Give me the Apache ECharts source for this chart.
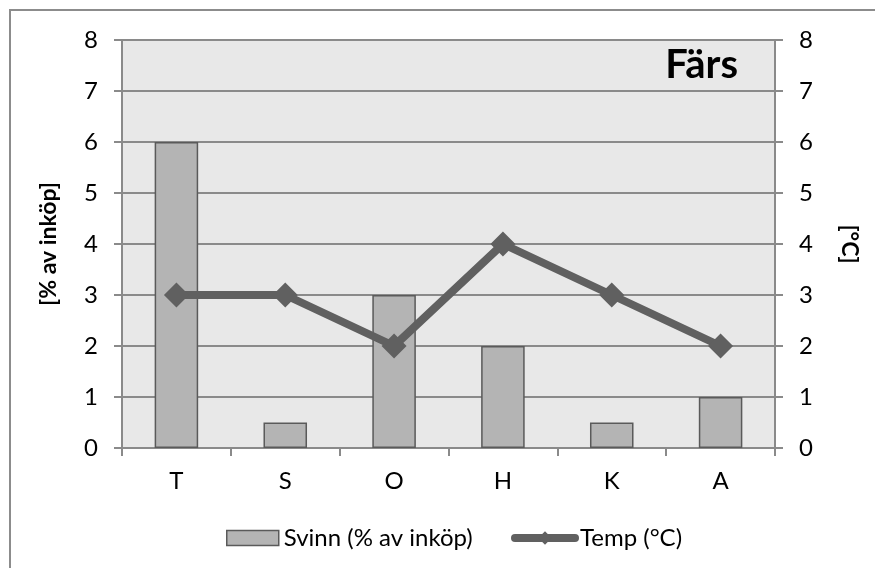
<!DOCTYPE html>
<html>
<head>
<meta charset="utf-8">
<script src="https://cdn.jsdelivr.net/npm/echarts@6/dist/echarts.min.js"></script>
<style>
  html, body { margin: 0; padding: 0; background: #ffffff; }
  #chart { width: 875px; height: 568px; }
</style>
</head>
<body>
<div id="chart"></div>
<script>
// Stores and measured values
const categories = ['T', 'S', 'O', 'H', 'K', 'A'];
const svinnValues = [6, 0.5, 3, 2, 0.5, 1];   // waste, % of purchases
const tempValues = [3, 3, 2, 4, 3, 2];        // storage temperature, °C
const yTicks = { min: 0, max: 8, interval: 1 };

const FONT = 'Lato, "Open Sans", sans-serif';
const GRID_GRAY = '#8a8a8a';
const LINE_GRAY = '#606060';

const chart = echarts.init(document.getElementById('chart'), null, { renderer: 'canvas' });

const yAxisBase = {
  type: 'value',
  min: yTicks.min,
  max: yTicks.max,
  interval: yTicks.interval,
  nameLocation: 'middle',
  nameTextStyle: { fontFamily: FONT, fontSize: 23, fontWeight: 'bold', color: '#000' },
  axisLine: { show: true, lineStyle: { color: GRID_GRAY, width: 2 } },
  axisTick: { show: true, length: 8, lineStyle: { color: GRID_GRAY, width: 2 } },
  axisLabel: { fontFamily: FONT, fontSize: 24, color: '#000', margin: 24 }
};

chart.setOption({
  animation: false,
  backgroundColor: '#ffffff',
  graphic: [
    {
      type: 'rect',
      shape: { x: 10, y: 10, width: 900, height: 600 },
      style: { fill: 'none', stroke: '#8c8c8c', lineWidth: 2 },
      z: -10
    },
    {
      type: 'text',
      right: 137,
      top: 45,
      style: {
        text: 'Färs',
        font: 'bold 40px ' + FONT,
        fill: '#000'
      },
      z: 10
    }
  ],
  grid: {
    left: 122, right: 100, top: 40, bottom: 120,
    show: true, backgroundColor: '#e8e8e8', borderWidth: 0
  },
  legend: [
    {
      data: [{ name: 'Svinn (% av inköp)', icon: 'rect' }],
      left: 226, top: 526,
      itemWidth: 52, itemHeight: 15, itemGap: 5,
      itemStyle: { borderColor: '#5a5a5a', borderWidth: 1.5 },
      textStyle: { fontFamily: FONT, fontSize: 24, color: '#000' },
      padding: 0
    },
    {
      data: ['Temp (°C)'],
      left: 511, top: 526,
      itemWidth: 60, itemHeight: 17, itemGap: 3,
      lineStyle: { width: 8, color: LINE_GRAY, cap: 'round' },
      textStyle: { fontFamily: FONT, fontSize: 24, color: '#000' },
      padding: 0
    }
  ],
  xAxis: {
    type: 'category',
    data: categories,
    boundaryGap: true,
    axisLine: { show: true, lineStyle: { color: GRID_GRAY, width: 2 } },
    axisTick: { show: true, length: 8, alignWithLabel: false, lineStyle: { color: GRID_GRAY, width: 2 } },
    axisLabel: { fontFamily: FONT, fontSize: 24, color: '#000', margin: 21 },
    splitLine: { show: false }
  },
  yAxis: [
    Object.assign({}, yAxisBase, {
      position: 'left',
      name: '[% av inköp]',
      nameGap: 62,
      nameRotate: 90,
      splitLine: { show: true, lineStyle: { color: GRID_GRAY, width: 2 } }
    }),
    Object.assign({}, yAxisBase, {
      position: 'right',
      name: '[°C]',
      nameGap: 63,
      nameRotate: -90,
      splitLine: { show: false }
    })
  ],
  series: [
    {
      name: 'Svinn (% av inköp)',
      type: 'bar',
      yAxisIndex: 0,
      data: svinnValues,
      barWidth: '40%',
      itemStyle: { color: '#b4b4b4', borderColor: '#5a5a5a', borderWidth: 1.5 },
      z: 2
    },
    {
      name: 'Temp (°C)',
      type: 'line',
      yAxisIndex: 1,
      data: tempValues,
      symbol: 'diamond',
      symbolSize: 25,
      lineStyle: { color: LINE_GRAY, width: 8, cap: 'round' },
      itemStyle: { color: LINE_GRAY },
      z: 3
    }
  ]
});
</script>
</body>
</html>
